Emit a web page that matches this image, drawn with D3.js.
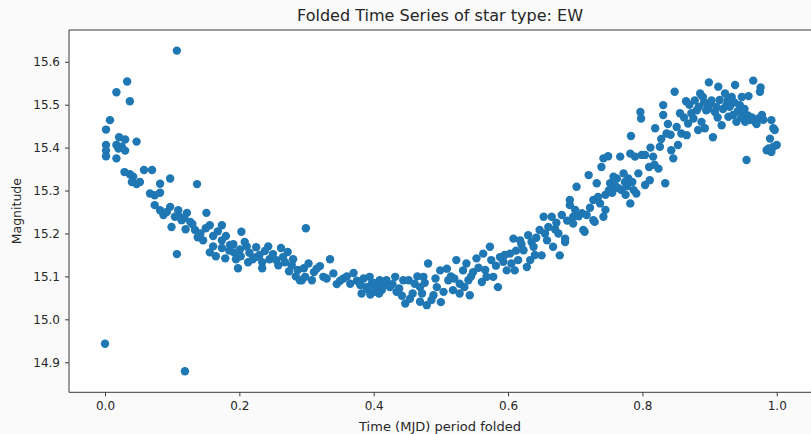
<!DOCTYPE html>
<html>
<head>
<meta charset="utf-8">
<script src="https://cdn.jsdelivr.net/npm/d3@7"></script>
<style>
  html, body { margin: 0; padding: 0; background: #fafafa; }
  svg { display: block; }
  text { font-family: "DejaVu Sans", sans-serif; fill: #262626; }
</style>
</head>
<body>
<svg id="chart" width="811" height="434"></svg>
<script>
// Folded light curve of an EW-type (W UMa) variable: phase vs. magnitude.
const phase = [
  0.000,0.0015,0.0015,0.0015,0.0015,0.0074,0.017,0.033,0.037,0.021,0.030,0.047,0.017,0.020,0.030,0.017,0.025,
  0.029,0.037,0.042,0.040,0.047,0.052,0.058,0.070,0.097,0.082,0.137,0.067,0.074,0.082,0.074,0.082,0.097,0.109,
  0.087,0.104,0.122,0.114,0.127,0.151,0.099,0.107,0.119,0.107,0.110,0.118,0.092,
  0.156,0.174,0.203,0.161,0.168,0.174,0.180,0.161,0.174,0.186,0.165,0.156,0.179,0.192,0.138,0.146,0.150,0.134,
  0.130,0.142,0.120,
  0.191,0.201,0.211,0.225,0.238,0.243,0.250,0.262,0.272,0.268,0.258,0.234,0.225,0.213,0.202,0.198,0.234,0.278,
  0.287,0.296,0.274,0.293,0.284,0.311,0.320,0.299,0.290,0.303,0.315,0.298,0.308,0.325,0.215,0.220,0.245,0.255,
  0.265,0.280,0.230,0.208,0.185,0.195,
  0.335,0.340,0.345,0.355,0.370,0.365,0.382,0.389,0.394,0.397,0.404,0.409,0.402,0.419,0.424,0.432,0.434,0.444,
  0.447,0.454,0.452,0.461,0.330,0.350,0.360,0.375,0.380,0.385,0.392,0.400,0.412,0.415,0.428,0.438,0.442,0.458,
  0.465,0.408,0.395,
  0.469,0.479,0.481,0.474,0.469,0.489,0.494,0.499,0.509,0.511,0.504,0.518,0.523,0.528,0.533,0.538,0.541,0.528,
  0.543,0.548,0.553,0.561,0.563,0.568,0.573,0.575,0.578,0.585,0.588,0.593,0.598,0.476,0.486,0.492,0.515,0.520,
  0.535,0.545,0.556,0.566,0.582,0.595,0.500,0.472,
  0.603,0.608,0.610,0.615,0.618,0.623,0.630,0.628,0.633,0.638,0.647,0.650,0.653,0.658,0.665,0.667,0.675,0.677,
  0.680,0.685,0.692,0.692,0.697,0.702,0.710,0.712,0.717,0.727,0.729,0.732,0.734,0.685,0.697,0.714,0.720,0.727,
  0.612,0.620,0.635,0.642,0.655,0.660,0.670,0.672,0.688,0.700,0.705,0.722,0.640,0.605,
  0.739,0.742,0.749,0.737,0.742,0.752,0.757,0.762,0.767,0.772,0.774,0.779,0.769,0.782,0.783,0.782,0.787,0.789,
  0.797,0.798,0.799,0.791,0.745,0.750,0.755,0.760,0.765,0.777,0.785,0.794,0.745,0.775,
  0.804,0.804,0.811,0.816,0.810,0.819,0.824,0.826,0.831,0.831,0.834,0.836,0.843,0.846,0.848,0.851,0.853,0.856,
  0.858,0.865,0.866,0.868,0.873,0.876,0.881,0.883,0.886,0.888,0.890,0.893,0.895,0.899,0.900,0.905,0.908,0.913,
  0.915,0.918,0.923,0.925,0.928,0.933,0.935,0.938,0.940,0.945,0.948,0.949,0.955,0.953,0.960,0.965,0.968,0.973,
  0.975,0.976,0.978,0.992,0.995,0.997,0.990,0.988,0.985,0.995,1.000,0.992,
  0.812,0.818,0.828,0.838,0.842,0.862,0.870,0.878,0.884,0.892,0.898,0.903,0.910,0.912,0.920,0.927,0.930,0.937,
  0.942,0.947,0.952,0.957,0.963,0.970,0.980,0.958
];

const magnitude = [
  14.943,15.442,15.406,15.393,15.380,15.464,15.529,15.554,15.508,15.424,15.419,15.414,15.406,15.398,15.393,15.375,15.402,
  15.343,15.338,15.332,15.320,15.315,15.320,15.348,15.348,15.328,15.316,15.315,15.293,15.289,15.295,15.266,15.254,15.262,15.254,
  15.243,15.239,15.248,15.231,15.227,15.248,15.215,15.626,14.879,15.152,15.240,15.236,15.250,
  15.219,15.219,15.204,15.194,15.205,15.184,15.194,15.170,15.166,15.173,15.147,15.156,15.142,15.156,15.191,15.184,15.212,15.208,
  15.222,15.200,15.210,
  15.175,15.163,15.170,15.168,15.159,15.170,15.152,15.166,15.157,15.133,15.126,15.133,15.145,15.133,15.147,15.119,15.119,15.126,
  15.115,15.119,15.112,15.091,15.100,15.110,15.124,15.212,15.091,15.130,15.118,15.099,15.091,15.099,15.155,15.140,15.140,15.138,
  15.145,15.140,15.150,15.180,15.160,15.140,
  15.140,15.107,15.082,15.095,15.108,15.083,15.060,15.075,15.099,15.083,15.075,15.091,15.064,15.091,15.075,15.099,15.064,15.091,
  15.037,15.048,15.091,15.083,15.095,15.090,15.100,15.090,15.080,15.095,15.070,15.085,15.068,15.080,15.082,15.072,15.055,15.060,
  15.100,15.060,15.058,
  15.041,15.033,15.130,15.099,15.075,15.056,15.075,15.114,15.118,15.091,15.064,15.068,15.138,15.083,15.114,15.130,15.091,15.060,
  15.056,15.110,15.142,15.087,15.153,15.099,15.169,15.138,15.099,15.075,15.145,15.134,15.114,15.085,15.045,15.095,15.100,15.095,
  15.075,15.100,15.120,15.115,15.125,15.150,15.040,15.060,
  15.153,15.188,15.114,15.138,15.184,15.161,15.196,15.122,15.138,15.169,15.208,15.149,15.239,15.184,15.239,15.169,15.200,15.149,
  15.243,15.188,15.266,15.278,15.223,15.309,15.247,15.208,15.243,15.278,15.227,15.317,15.285,15.180,15.239,15.204,15.336,15.231,
  15.160,15.175,15.180,15.190,15.200,15.215,15.210,15.225,15.230,15.255,15.240,15.260,15.150,15.130,
  15.355,15.375,15.380,15.270,15.239,15.317,15.332,15.328,15.379,15.340,15.320,15.328,15.301,15.386,15.427,15.270,15.301,15.379,
  15.483,15.468,15.383,15.293,15.290,15.300,15.295,15.310,15.305,15.310,15.320,15.340,15.255,15.290,
  15.383,15.313,15.324,15.379,15.355,15.445,15.351,15.402,15.499,15.476,15.317,15.433,15.394,15.375,15.530,15.448,15.406,15.480,
  15.433,15.508,15.429,15.456,15.480,15.468,15.487,15.441,15.526,15.460,15.518,15.445,15.487,15.552,15.503,15.424,15.483,15.542,
  15.511,15.452,15.526,15.499,15.472,15.518,15.476,15.546,15.460,15.499,15.518,15.483,15.371,15.460,15.464,15.556,15.460,15.468,
  15.530,15.540,15.476,15.464,15.445,15.441,15.421,15.398,15.394,15.402,15.406,15.390,
  15.400,15.360,15.420,15.455,15.430,15.470,15.500,15.510,15.495,15.505,15.490,15.510,15.495,15.470,15.490,15.510,15.495,15.505,
  15.485,15.470,15.490,15.475,15.470,15.455,15.465,15.520
];

const xTicks = [0.0, 0.2, 0.4, 0.6, 0.8, 1.0];
const yTicks = [14.9, 15.0, 15.1, 15.2, 15.3, 15.4, 15.5, 15.6];

const titleText = "Folded Time Series of star type: EW";
const xLabel = "Time (MJD) period folded";
const yLabel = "Magnitude";

const plot = { left: 69, top: 30, right: 812, bottom: 392.3 };

const svg = d3.select("#chart");

const x = d3.scaleLinear().domain([-0.0536, 1.0525]).range([plot.left, plot.right]);
const y = d3.scaleLinear().domain([14.830, 15.674]).range([plot.bottom, plot.top]);

// plot area
svg.append("rect")
  .attr("x", plot.left).attr("y", plot.top)
  .attr("width", plot.right - plot.left).attr("height", plot.bottom - plot.top)
  .attr("fill", "#ffffff");

// points
svg.append("g")
  .selectAll("circle")
  .data(phase.map((p, i) => [p, magnitude[i]]))
  .join("circle")
  .attr("cx", d => x(d[0]))
  .attr("cy", d => y(d[1]))
  .attr("r", 4.2)
  .attr("fill", "#1f77b4");

// spines
const spine = svg.append("g").attr("stroke", "#3a3a3a").attr("stroke-width", 1).attr("fill", "none");
spine.append("line").attr("x1", plot.left).attr("x2", plot.left).attr("y1", plot.top).attr("y2", plot.bottom);
spine.append("line").attr("x1", plot.left).attr("x2", plot.right).attr("y1", plot.bottom).attr("y2", plot.bottom);
spine.append("line").attr("x1", plot.left).attr("x2", plot.right).attr("y1", plot.top).attr("y2", plot.top);
spine.append("line").attr("x1", plot.right).attr("x2", plot.right).attr("y1", plot.top).attr("y2", plot.bottom);

// axes
const fmt = d3.format(".1f");
const xAxis = svg.append("g")
  .attr("transform", `translate(0,${plot.bottom})`)
  .call(d3.axisBottom(x).tickValues(xTicks).tickFormat(fmt).tickSize(4).tickPadding(5));
const yAxis = svg.append("g")
  .attr("transform", `translate(${plot.left},0)`)
  .call(d3.axisLeft(y).tickValues(yTicks).tickFormat(fmt).tickSize(4).tickPadding(5));

[xAxis, yAxis].forEach(g => {
  g.select(".domain").remove();
  g.selectAll(".tick line").attr("stroke", "#3a3a3a").attr("stroke-width", 1);
  g.selectAll(".tick text")
    .attr("fill", "#262626")
    .style("font-family", "'DejaVu Sans', sans-serif")
    .style("font-size", "12px");
});

// title and axis labels
svg.append("text")
  .attr("x", (plot.left + 811) / 2).attr("y", 21)
  .attr("text-anchor", "middle")
  .style("font-size", "15px")
  .attr("textLength", 286)
  .attr("lengthAdjust", "spacingAndGlyphs")
  .text(titleText);

svg.append("text")
  .attr("x", (plot.left + 811) / 2).attr("y", 431)
  .attr("text-anchor", "middle")
  .style("font-size", "12.5px")
  .attr("textLength", 162)
  .attr("lengthAdjust", "spacingAndGlyphs")
  .text(xLabel);

svg.append("text")
  .attr("transform", `translate(21,${(plot.top + plot.bottom) / 2}) rotate(-90)`)
  .attr("text-anchor", "middle")
  .style("font-size", "12.5px")
  .text(yLabel);
</script>
</body>
</html>
